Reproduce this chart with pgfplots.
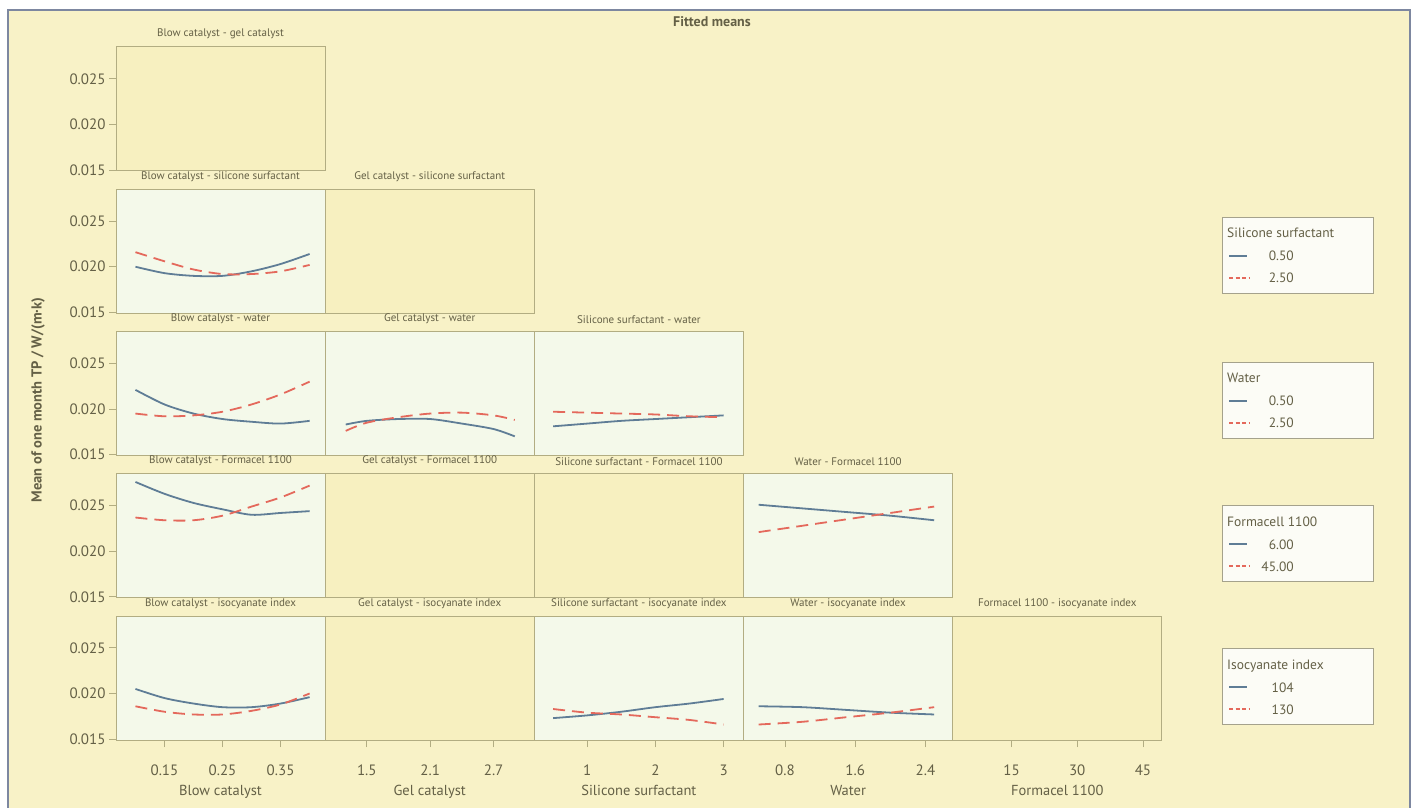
\documentclass[border=0pt]{standalone}
\usepackage{pgfplots}
\pgfplotsset{compat=1.18}
\usepackage{fontspec}
\setmainfont{PT Sans}
\definecolor{bgcol}{RGB}{248,242,199}
\definecolor{emptyfill}{RGB}{247,240,192}
\definecolor{datafill}{RGB}{244,249,234}
\definecolor{bordercol}{RGB}{178,173,130}
\definecolor{txtcol}{RGB}{100,96,70}
\definecolor{framecol}{RGB}{125,135,160}
\definecolor{bluecol}{RGB}{95,125,150}
\definecolor{redcol}{RGB}{228,105,92}
\definecolor{legfill}{RGB}{252,252,246}
\definecolor{legborder}{RGB}{165,162,140}
\newcommand\tickfont{\fontsize{15}{17}\selectfont}
\newcommand\ptfont{\fontsize{11}{13}\selectfont}
\newcommand\labfont{\fontsize{14.5}{17}\selectfont}
\newcommand\legfont{\fontsize{13.5}{16}\selectfont}
\pgfplotsset{
  panel/.style={scale only axis, width=209pt, height=124pt, anchor=south west,
    ymin=0.0149, ymax=0.0285, scaled y ticks=false, scaled x ticks=false,
    axis line style={draw=bordercol, line width=1pt},
    xtick=\empty, ytick=\empty,
    tick align=outside, major tick length=7pt,
    tick style={draw=bordercol, line width=0.9pt},
    tick pos=left,
    ticklabel style={font=\tickfont, text=txtcol},
    xticklabel style={yshift=-14pt},
    title style={font=\ptfont, text=txtcol, at={(0.5,1)}, anchor=south, inner sep=1.5pt, yshift=0pt},
    xlabel style={font=\labfont, text=txtcol, yshift=-3pt},
  },
  datap/.style={panel, axis background/.style={fill=datafill}},
  emptyp/.style={panel, axis background/.style={fill=emptyfill}},
  c1/.style={xmin=0.0665, xmax=0.4265},
  c2/.style={xmin=1.106, xmax=3.084},
  c3/.style={xmin=0.226, xmax=3.29},
  c4/.style={xmin=0.328, xmax=2.71},
  c5/.style={xmin=1.6, xmax=49.3},
  yt/.style={ytick={0.015,0.020,0.025}, yticklabels={0.015,0.020,0.025}},
  xt1/.style={xtick={0.15,0.25,0.35}, xticklabels={0.15,0.25,0.35}, xlabel={Blow catalyst}},
  xt2/.style={xtick={1.5,2.1,2.7}, xticklabels={1.5,2.1,2.7}, xlabel={Gel catalyst}},
  xt3/.style={xtick={1,2,3}, xticklabels={1,2,3}, xlabel={Silicone surfactant}},
  xt4/.style={xtick={0.8,1.6,2.4}, xticklabels={0.8,1.6,2.4}, xlabel={Water}},
  xt5/.style={xtick={15,30,45}, xticklabels={15,30,45}, xlabel={Formacel 1100}},
  bl/.style={draw=bluecol, line width=1.8pt, smooth, no markers},
  rd/.style={draw=redcol, line width=1.8pt, smooth, no markers, dash pattern=on 12pt off 7pt},
}
\begin{document}
\begin{tikzpicture}
\useasboundingbox (0,0) rectangle (1416pt,807pt);
\fill[white] (0,0) rectangle (1416pt,807pt);
\fill[bgcol] (8pt,-5pt) rectangle (1410pt,797pt);
\draw[framecol, line width=2pt] (8pt,-5pt) -- (8pt,797pt) -- (1410pt,797pt) -- (1410pt,-5pt);
\node[font=\bfseries\fontsize{14}{16}\selectfont, text=txtcol] at (712pt,785pt) {Fitted means};
\node[rotate=90, font=\bfseries\fontsize{14.5}{16}\selectfont, text=txtcol] at (38pt,407pt) {Mean of one month TP / W/(m·k)};

% Row 1
\begin{axis}[emptyp, c1, yt, at={(116pt,636pt)}, title={Blow catalyst - gel catalyst}]
\end{axis}

% Row 2
\begin{axis}[datap, c1, yt, at={(116pt,493.75pt)}, title={Blow catalyst - silicone surfactant}]
\addplot[bl] coordinates {(0.10,0.0200) (0.15,0.0193) (0.20,0.0190) (0.25,0.0190) (0.30,0.0195) (0.35,0.0203) (0.40,0.0214)};
\addplot[rd] coordinates {(0.10,0.0216) (0.15,0.0206) (0.20,0.0197) (0.25,0.0192) (0.30,0.0192) (0.35,0.0195) (0.40,0.0202)};
\end{axis}
\begin{axis}[emptyp, c2, at={(325.2pt,493.75pt)}, title={Gel catalyst - silicone surfactant}]
\end{axis}

% Row 3
\begin{axis}[datap, c1, yt, at={(116pt,351.5pt)}, title={Blow catalyst - water}]
\addplot[bl] coordinates {(0.10,0.0221) (0.15,0.0205) (0.20,0.0195) (0.25,0.0189) (0.30,0.0186) (0.35,0.0184) (0.40,0.0187)};
\addplot[rd] coordinates {(0.10,0.0195) (0.15,0.0192) (0.20,0.0193) (0.25,0.0197) (0.30,0.0205) (0.35,0.0216) (0.40,0.0230)};
\end{axis}
\begin{axis}[datap, c2, at={(325.2pt,351.5pt)}, title={Gel catalyst - water}]
\addplot[bl] coordinates {(1.3,0.0183) (1.5,0.0187) (1.8,0.0189) (2.1,0.0189) (2.4,0.0184) (2.7,0.0178) (2.9,0.0170)};
\addplot[rd] coordinates {(1.3,0.0176) (1.5,0.0185) (1.8,0.0191) (2.1,0.0195) (2.4,0.0196) (2.7,0.0193) (2.9,0.0188)};
\end{axis}
\begin{axis}[datap, c3, at={(534.4pt,351.5pt)}, title={Silicone surfactant - water}]
\addplot[bl] coordinates {(0.5,0.0181) (1.0,0.0184) (1.5,0.0187) (2.0,0.0189) (2.5,0.0191) (3.0,0.0193)};
\addplot[rd] coordinates {(0.5,0.0197) (1.0,0.0196) (1.5,0.0195) (2.0,0.0194) (2.5,0.0192) (3.0,0.0191)};
\end{axis}

% Row 4
\begin{axis}[datap, c1, yt, at={(116pt,209.25pt)}, title={Blow catalyst - Formacel 1100}]
\addplot[bl] coordinates {(0.10,0.0276) (0.15,0.0263) (0.20,0.0253) (0.25,0.0246) (0.30,0.0240) (0.35,0.0242) (0.40,0.0244)};
\addplot[rd] coordinates {(0.10,0.0237) (0.15,0.0234) (0.20,0.0234) (0.25,0.0239) (0.30,0.0249) (0.35,0.0259) (0.40,0.0272)};
\end{axis}
\begin{axis}[emptyp, c2, at={(325.2pt,209.25pt)}, title={Gel catalyst - Formacel 1100}]
\end{axis}
\begin{axis}[emptyp, c3, at={(534.4pt,209.25pt)}, title={Silicone surfactant - Formacel 1100}]
\end{axis}
\begin{axis}[datap, c4, at={(743.6pt,209.25pt)}, title={Water - Formacel 1100}]
\addplot[bl] coordinates {(0.5,0.0251) (1.0,0.0247) (1.5,0.0243) (2.0,0.0239) (2.5,0.0234)};
\addplot[rd] coordinates {(0.5,0.0221) (1.0,0.0228) (1.5,0.0235) (2.0,0.0242) (2.5,0.0249)};
\end{axis}

% Row 5
\begin{axis}[datap, c1, yt, xt1, at={(116pt,67pt)}, title={Blow catalyst - isocyanate index}]
\addplot[bl] coordinates {(0.10,0.0205) (0.15,0.0195) (0.20,0.0189) (0.25,0.0185) (0.30,0.0185) (0.35,0.0189) (0.40,0.0196)};
\addplot[rd] coordinates {(0.10,0.0186) (0.15,0.0180) (0.20,0.0177) (0.25,0.0177) (0.30,0.0181) (0.35,0.0188) (0.40,0.0200)};
\end{axis}
\begin{axis}[emptyp, c2, xt2, at={(325.2pt,67pt)}, title={Gel catalyst - isocyanate index}]
\end{axis}
\begin{axis}[datap, c3, xt3, at={(534.4pt,67pt)}, title={Silicone surfactant - isocyanate index}]
\addplot[bl] coordinates {(0.5,0.0173) (1.0,0.0176) (1.5,0.0180) (2.0,0.0185) (2.5,0.0189) (3.0,0.0194)};
\addplot[rd] coordinates {(0.5,0.0183) (1.0,0.0179) (1.5,0.0177) (2.0,0.0174) (2.5,0.0171) (3.0,0.0166)};
\end{axis}
\begin{axis}[datap, c4, xt4, at={(743.6pt,67pt)}, title={Water - isocyanate index}]
\addplot[bl] coordinates {(0.5,0.0186) (1.0,0.0185) (1.5,0.0182) (2.0,0.0179) (2.5,0.0177)};
\addplot[rd] coordinates {(0.5,0.0166) (1.0,0.0169) (1.5,0.0174) (2.0,0.0179) (2.5,0.0185)};
\end{axis}
\begin{axis}[emptyp, c5, xt5, at={(952.8pt,67pt)}, title={Formacel 1100 - isocyanate index}]
\end{axis}

% Legends
\foreach \T/\ttl/\va/\vb in {217/Silicone surfactant/0.50/2.50, 362/Water/0.50/2.50, 505/Formacell 1100/6.00/45.00, 648/Isocyanate index/104/130}{
  \pgfmathsetmacro\yt{807-\T}
  \draw[legborder, fill=legfill, line width=0.9pt] (1222pt,\yt pt) rectangle (1373pt,\yt pt-76pt);
  \node[anchor=base west, font=\legfont, text=txtcol, inner sep=0pt] at (1227pt,\yt pt-21pt) {\ttl};
  \draw[bluecol, line width=1.4pt] (1229pt,\yt pt-39pt) -- (1247pt,\yt pt-39pt);
  \node[anchor=base east, font=\legfont, text=txtcol, inner sep=0pt] at (1294pt,\yt pt-44pt) {\va};
  \draw[redcol, line width=1.4pt, dash pattern=on 4pt off 2.5pt] (1229pt,\yt pt-61pt) -- (1250pt,\yt pt-61pt);
  \node[anchor=base east, font=\legfont, text=txtcol, inner sep=0pt] at (1294pt,\yt pt-66pt) {\vb};
}
\end{tikzpicture}
\end{document}
